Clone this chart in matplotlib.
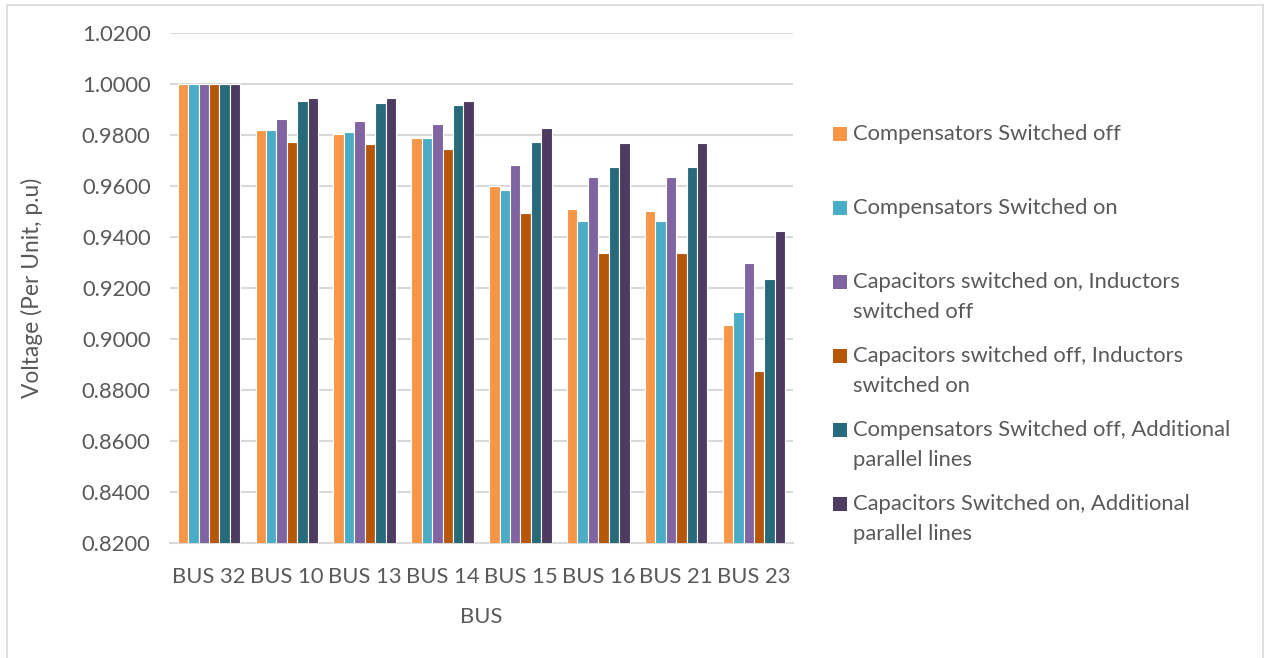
import numpy as np
import matplotlib.pyplot as plt
from matplotlib.patches import Rectangle

plt.rcParams['font.family'] = ['Lato', 'DejaVu Sans']

buses = ['BUS 32', 'BUS 10', 'BUS 13', 'BUS 14', 'BUS 15', 'BUS 16', 'BUS 21', 'BUS 23']

comp_off = [1.0000, 0.9818, 0.9803, 0.9788, 0.9599, 0.9510, 0.9501, 0.9055]
comp_on = [1.0000, 0.9818, 0.9812, 0.9788, 0.9584, 0.9463, 0.9463, 0.9107]
cap_on_ind_off = [1.0000, 0.9864, 0.9856, 0.9842, 0.9682, 0.9637, 0.9637, 0.9298]
cap_off_ind_on = [1.0000, 0.9774, 0.9766, 0.9744, 0.9493, 0.9336, 0.9336, 0.8875]
comp_off_parallel = [1.0000, 0.9932, 0.9924, 0.9916, 0.9774, 0.9676, 0.9676, 0.9236]
cap_on_parallel = [1.0000, 0.9946, 0.9946, 0.9932, 0.9826, 0.9767, 0.9767, 0.9425]

series = [comp_off, comp_on, cap_on_ind_off, cap_off_ind_on, comp_off_parallel, cap_on_parallel]
labels = ['Compensators Switched off',
          'Compensators Switched on',
          'Capacitors switched on, Inductors\nswitched off',
          'Capacitors switched off, Inductors\nswitched on',
          'Compensators Switched off, Additional\nparallel lines',
          'Capacitors Switched on, Additional\nparallel lines']
colors = ['#F79646', '#4BACC6', '#8064A2', '#B65708', '#276A7C', '#4D3B62']

text_col = '#595959'
grid_col = '#D9D9D9'
fs = 15.8

fig = plt.figure(figsize=(12.66, 6.58), dpi=100)
ax = fig.add_axes([170 / 1266, 1 - 543 / 658, 623 / 1266, 510 / 658])

x = np.arange(len(buses))
w = 0.134
for i, (vals, col) in enumerate(zip(series, colors)):
    ax.bar(x + (i - 2.5) * w, vals, width=w, color=col, edgecolor='white',
           linewidth=0.8, zorder=3)

ax.set_ylim(0.82, 1.02)
ax.set_xlim(-0.5, len(buses) - 0.5)
ax.set_yticks(np.arange(0.82, 1.0201, 0.02))
ax.set_yticklabels([f'{v:.4f}' for v in np.arange(0.82, 1.0201, 0.02)])
ax.set_xticks(x)
ax.set_xticklabels(buses)
ax.grid(axis='y', color=grid_col, linewidth=1.5, zorder=0)
for s in ['top', 'right', 'left']:
    ax.spines[s].set_visible(False)
ax.spines['bottom'].set_color(grid_col)
ax.spines['bottom'].set_linewidth(1.5)
ax.tick_params(length=0, labelsize=fs, labelcolor=text_col)
ax.tick_params(axis='y', pad=14)
ax.tick_params(axis='x', pad=17)
ax.set_xlabel('BUS', fontsize=fs, color=text_col, labelpad=15)
ax.set_ylabel('Voltage (Per Unit, p.u)', fontsize=fs + 0.6, color=text_col, labelpad=28)

# legend drawn by hand so every entry gets the same slot height
for i, (lab, col) in enumerate(zip(labels, colors)):
    yc = 134 + 74 * i
    fig.patches.append(Rectangle((833 / 1266, 1 - (yc + 7) / 658), 14 / 1266, 14 / 658,
                                 transform=fig.transFigure, facecolor=col, edgecolor='none'))
    fig.text(853 / 1266, 1 - (yc - 10) / 658, lab, fontsize=fs, color=text_col,
             va='top', ha='left', linespacing=1.62)

# outer chart border
fig.patches.append(Rectangle((7 / 1266, -0.01), 1256 / 1266, 1 - 5 / 658 + 0.01,
                             transform=fig.transFigure, fill=False,
                             edgecolor=grid_col, linewidth=1.2))

fig.savefig('out.png', dpi=100)
